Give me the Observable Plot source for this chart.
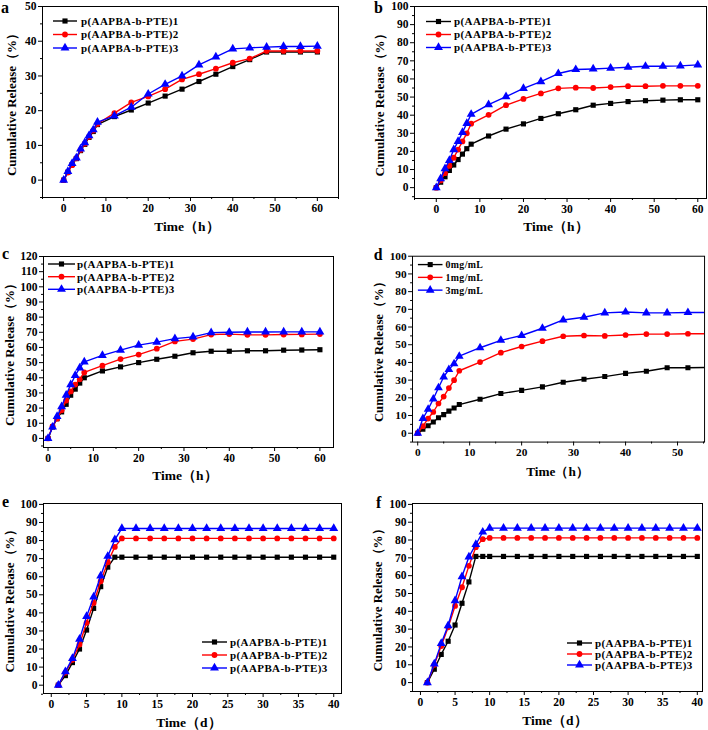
<!DOCTYPE html>
<html><head><meta charset="utf-8">
<script src="https://cdn.jsdelivr.net/npm/d3@7"></script>
<script src="https://cdn.jsdelivr.net/npm/@observablehq/plot@0.6"></script>
<style>
body{margin:0;background:#fff;}
#root{position:relative;width:708px;height:730px;overflow:hidden;background:#fff;}
.panel{position:absolute;}
</style></head><body><div id="root"></div>
<script>
// ---------- data ----------
const hours = [0,1,2,3,4,5,6,7,8,12,16,20,24,28,32,36,40,44,48,52,56,60];
const days = [1,2,3,4,5,6,7,8,9,10,12,14,16,18,20,22,24,26,28,30,32,34,36,38,40];
const polymerNames = ["p(AAPBA-b-PTE)1","p(AAPBA-b-PTE)2","p(AAPBA-b-PTE)3"];
const concNames = ["0mg/mL","1mg/mL","3mg/mL"];
const panelLetters = ["a","b","c","d","e","f"];

const a1 = [0,2.3,4.5,6.2,8.5,10.3,12.3,14,16,18.3,20.2,22.2,24.2,26.2,28.4,30.5,32.7,34.7,36.9,36.9,36.9,36.9];
const a2 = [0,2.2,4.3,6.3,8.7,10.5,12.5,14.3,16.2,19.3,22.4,24.1,26.2,29,30.5,32.1,33.8,35,37.2,37.2,37.2,37.2];
const a3 = [0,2.5,4.8,6.4,9,10.8,12.8,14.5,16.7,18.5,21,24.8,27.6,30,33.2,35.5,37.8,38.1,38.3,38.5,38.5,38.6];

const b1 = [0,3,6,9.5,12.5,15.5,18.5,21.5,24,28.5,32.3,35.2,38.2,40.8,43,45.5,46.5,47.5,48,48.3,48.5,48.5];
const b2 = [0,4,8,12,16.5,21,25.5,30,35.3,40.2,45.5,49,52,54.8,55.2,55,55.5,56,56,56.2,56.2,56.2];
const b3 = [0,5,10.5,15,21,25.5,30.5,35.5,40.5,45.8,50.2,54.8,58.5,63,65.2,65.5,66,66.5,67,67,67.2,67.8];

const c1 = [0,7.5,13,17.5,22.5,28.5,32.5,36.5,40,44.5,47.2,50,52.2,54.2,56.5,57.5,57.5,57.8,57.8,58.2,58.3,58.5];
const c2 = [0,8,13,18.5,25,31,35.5,39,43.5,48,52.3,55.3,59.2,64,65.5,68.5,68.8,68.3,68.3,68.5,68.6,68.8];
const c3 = [0,7.5,14.5,21,28.5,35.5,41.5,46.5,50.5,54.8,58.2,61.5,63.5,65.8,67,69.8,70,70.2,70.2,70.3,70.3,70.3];

const d1 = [0,2.2,4.2,6.3,8.7,10.5,12.5,14.2,16.2,19.2,22.4,24.2,26.2,28.8,30.5,32,33.8,35,37,37,37.2,37.2];
const d2 = [0,4,8.3,12,16.8,20.7,25.5,30,35.3,40.2,45.5,49,52,54.8,55.2,55,55.5,56,56,56.2,56.2,56.2];
const d3v = [0,8.3,13.5,19.3,25.7,31.8,36,39.2,43.5,48.3,52.5,55.2,59.3,64,65.5,68,68.5,68,68,68.2,68.2,68.2];

const e1 = [0,5.3,12.5,20,30.5,42.5,54.5,65.3,70.8,70.8,70.8,70.8,70.8,70.8,70.8,70.8,70.8,70.8,70.8,70.8,70.8,70.8,70.8,70.8,70.8];
const e2 = [0,7,14,22.5,34.5,45.5,57.5,68,76.5,81.2,81.2,81.2,81.2,81.2,81.2,81.2,81.2,81.2,81.2,81.2,81.2,81.2,81.2,81.2,81.2];
const e3 = [0,7.5,14.8,25.5,38,48.8,60.5,71.3,80.5,86.7,86.7,86.7,86.7,86.7,86.7,86.7,86.7,86.7,86.7,86.7,86.7,86.7,86.7,86.7,86.7];

const f1 = [0,7.5,15.8,23.2,32.3,44.5,56.5,70.8,70.8,70.8,70.8,70.8,70.8,70.8,70.8,70.8,70.8,70.8,70.8,70.8,70.8,70.8,70.8,70.8,70.8];
const f2 = [0,10,20.5,31,43,53.5,65.5,76,80.5,81.2,81.2,81.2,81.2,81.2,81.2,81.2,81.2,81.2,81.2,81.2,81.2,81.2,81.2,81.2,81.2];
const f3 = [0,10.5,22,32,46,59.5,70.5,77.5,84.5,86.7,86.7,86.7,86.7,86.7,86.7,86.7,86.7,86.7,86.7,86.7,86.7,86.7,86.7,86.7,86.7];

// ---------- styles ----------
const colors = ["#000000","#ff0000","#0000ff"];
const symbols = ["square","circle","triangle"];
const d3Symbols = [d3.symbolSquare, d3.symbolCircle, d3.symbolTriangle];
const FONT = "'Liberation Serif','Times New Roman',serif";

function range(a,b,s){const r=[];for(let v=a;v<=b+1e-9;v+=s)r.push(+v.toFixed(3));return r;}

const panels = [
  {xs:hours, ys:[a1,a2,a3], names:polymerNames, left:0, top:0, w:354, h:243, mL:42, mR:16, mT:6, mB:46,
   xd:[-5,65], yd:[-5,50], xt:range(0,60,10), xm:range(-5,65,10), yt:range(0,50,10), ym:range(-5,45,10),
   xlabel:"Time（h）", xlx:187, xly:231, ylx:11, letter:[1,13],
   leg:{x1:53,x2:77,tx:81,ys:[21,34.5,48], fs:11}},
  {xs:hours, ys:[b1,b2,b3], names:polymerNames, left:354, top:0, w:354, h:243, mL:60, mR:2, mT:6, mB:45,
   xd:[-5,62], yd:[-6,100], xt:range(0,60,10), xm:range(-5,55,10), yt:range(0,100,10), ym:range(-5,95,10),
   xlabel:"Time（h）", xlx:202, xly:231, ylx:25, letter:[20,13],
   leg:{x1:72,x2:97,tx:100,ys:[21.5,34.5,47.5], fs:11}},
  {xs:hours, ys:[c1,c2,c3], names:polymerNames, left:0, top:240, w:354, h:240, mL:43, mR:21, mT:16, mB:33,
   xd:[-1,63], yd:[-6,120], xt:range(0,60,10), xm:range(5,55,10), yt:range(0,120,10), ym:range(-5,115,10),
   xlabel:"Time（h）", xlx:185, xly:240, ylx:9, letter:[2,19],
   leg:{x1:48,x2:75,tx:77,ys:[24,36.7,49.3], fs:11}},
  {xs:hours, ys:[d1,d2,d3v], names:concNames, left:354, top:240, w:360, h:240, mL:59, mR:4, mT:16, mB:35,
   xd:[-1,55.2], yd:[-5,100], xt:range(0,50,10), xm:range(5,55,10), yt:range(0,100,10), ym:range(-5,95,10),
   xlabel:"Time（h）", xlx:207, xly:240, ylx:25, letter:[20,20],
   leg:{x1:65,x2:90,tx:93,ys:[25,38,51], fs:10}},
  {xs:days, ys:[e1,e2,e3], names:polymerNames, left:0, top:480, w:354, h:250, mL:43, mR:13, mT:23, mB:37,
   xd:[-1.1,41.1], yd:[-4.6,100.5], xt:range(0,40,5), xm:range(2.5,37.5,5), yt:range(0,100,10), ym:range(-5,95,10),
   xlabel:"Time（d）", xlx:189, xly:247, ylx:9, letter:[2,27],
   leg:{x1:202,x2:227,tx:230,ys:[162,175,188], fs:11}},
  {xs:days, ys:[f1,f2,f3], names:polymerNames, left:354, top:480, w:354, h:250, mL:58, mR:6, mT:23, mB:39,
   xd:[-1.15,40.75], yd:[-5,100.5], xt:range(0,40,5), xm:range(2.5,37.5,5), yt:range(0,100,10), ym:range(-5,95,10),
   xlabel:"Time（d）", xlx:201, xly:245, ylx:23, letter:[22,28],
   leg:{x1:213,x2:238,tx:241,ys:[163,174,185], fs:11}}
];

const root = document.getElementById("root");

panels.forEach((p, pi) => {
  const rows = [];
  p.ys.forEach((arr, si) => arr.forEach((v, i) => rows.push({x: p.xs[i], y: v, s: si})));
  const marks = [];
  marks.push(Plot.frame({stroke:"#000", strokeWidth:1}));
  marks.push(Plot.axisX({ticks:p.xt, tickSize:4, tickPadding:2, label:null, fontSize:11.5, tickFormat:d=>d}));
  marks.push(Plot.axisX({ticks:p.xm, tickSize:2, text:null, label:null}));
  marks.push(Plot.axisY({ticks:p.yt, tickSize:4, tickPadding:2, label:null, fontSize:11.5, tickFormat:d=>d}));
  marks.push(Plot.axisY({ticks:p.ym, tickSize:2, text:null, label:null}));
  [0,1,2].forEach(si => {
    const sub = rows.filter(r => r.s === si);
    marks.push(Plot.line(sub, {x:"x", y:"y", stroke:colors[si], strokeWidth:1.4, clip:true}));
    marks.push(Plot.dot(sub, {x:"x", y:"y", symbol:symbols[si], fill:colors[si], stroke:"none", r: si===2?3.3:2.9, clip:true}));
  });
  const svg = Plot.plot({
    width:p.w, height:p.h,
    marginLeft:p.mL, marginRight:p.mR, marginTop:p.mT, marginBottom:p.mB,
    x:{domain:p.xd}, y:{domain:p.yd},
    style:{fontFamily:FONT, fontWeight:"bold", fontSize:"11.5px", color:"#000", background:"transparent", overflow:"visible"},
    marks
  });
  const div = document.createElement("div");
  div.className = "panel";
  div.style.left = p.left + "px";
  div.style.top = p.top + "px";
  div.appendChild(svg);
  root.appendChild(div);

  const s = d3.select(svg);
  // legend
  const g = s.append("g").attr("font-family", FONT).attr("font-weight", "bold").attr("font-size", p.leg.fs)
    .attr("text-anchor", "start");
  p.names.forEach((nm, si) => {
    const y = p.leg.ys[si];
    g.append("line").attr("x1", p.leg.x1).attr("x2", p.leg.x2).attr("y1", y).attr("y2", y)
      .attr("stroke", colors[si]).attr("stroke-width", 1.4);
    g.append("path").attr("d", d3.symbol(d3Symbols[si], Math.PI * (si===2?3.3:2.9) ** 2)())
      .attr("transform", `translate(${(p.leg.x1+p.leg.x2)/2},${y})`).attr("fill", colors[si]);
    g.append("text").attr("x", p.leg.tx).attr("y", y).attr("dy", "0.35em").attr("fill", "#000")
      .attr("text-anchor", "start").attr("letter-spacing", "0.4px").text(nm);
  });
  // axis labels
  s.append("text").attr("x", p.xlx).attr("y", p.xly).attr("text-anchor", "middle")
    .attr("font-family", FONT).attr("font-weight", "bold").attr("font-size", 13.5).attr("fill", "#000")
    .text(p.xlabel);
  const cy = (p.mT + (p.h - p.mB)) / 2;
  s.append("text").attr("transform", `translate(${p.ylx},${cy}) rotate(-90)`).attr("text-anchor", "middle")
    .attr("dy", "0.35em").attr("font-family", FONT).attr("font-weight", "bold").attr("font-size", 13).attr("fill", "#000")
    .text("Cumulative Release（%）");
  // panel letter
  s.append("text").attr("x", p.letter[0]).attr("y", p.letter[1]).attr("text-anchor", "start")
    .attr("font-family", FONT).attr("font-weight", "bold").attr("font-size", 16).attr("fill", "#000")
    .text(panelLetters[pi]);
});
</script>
</body></html>
